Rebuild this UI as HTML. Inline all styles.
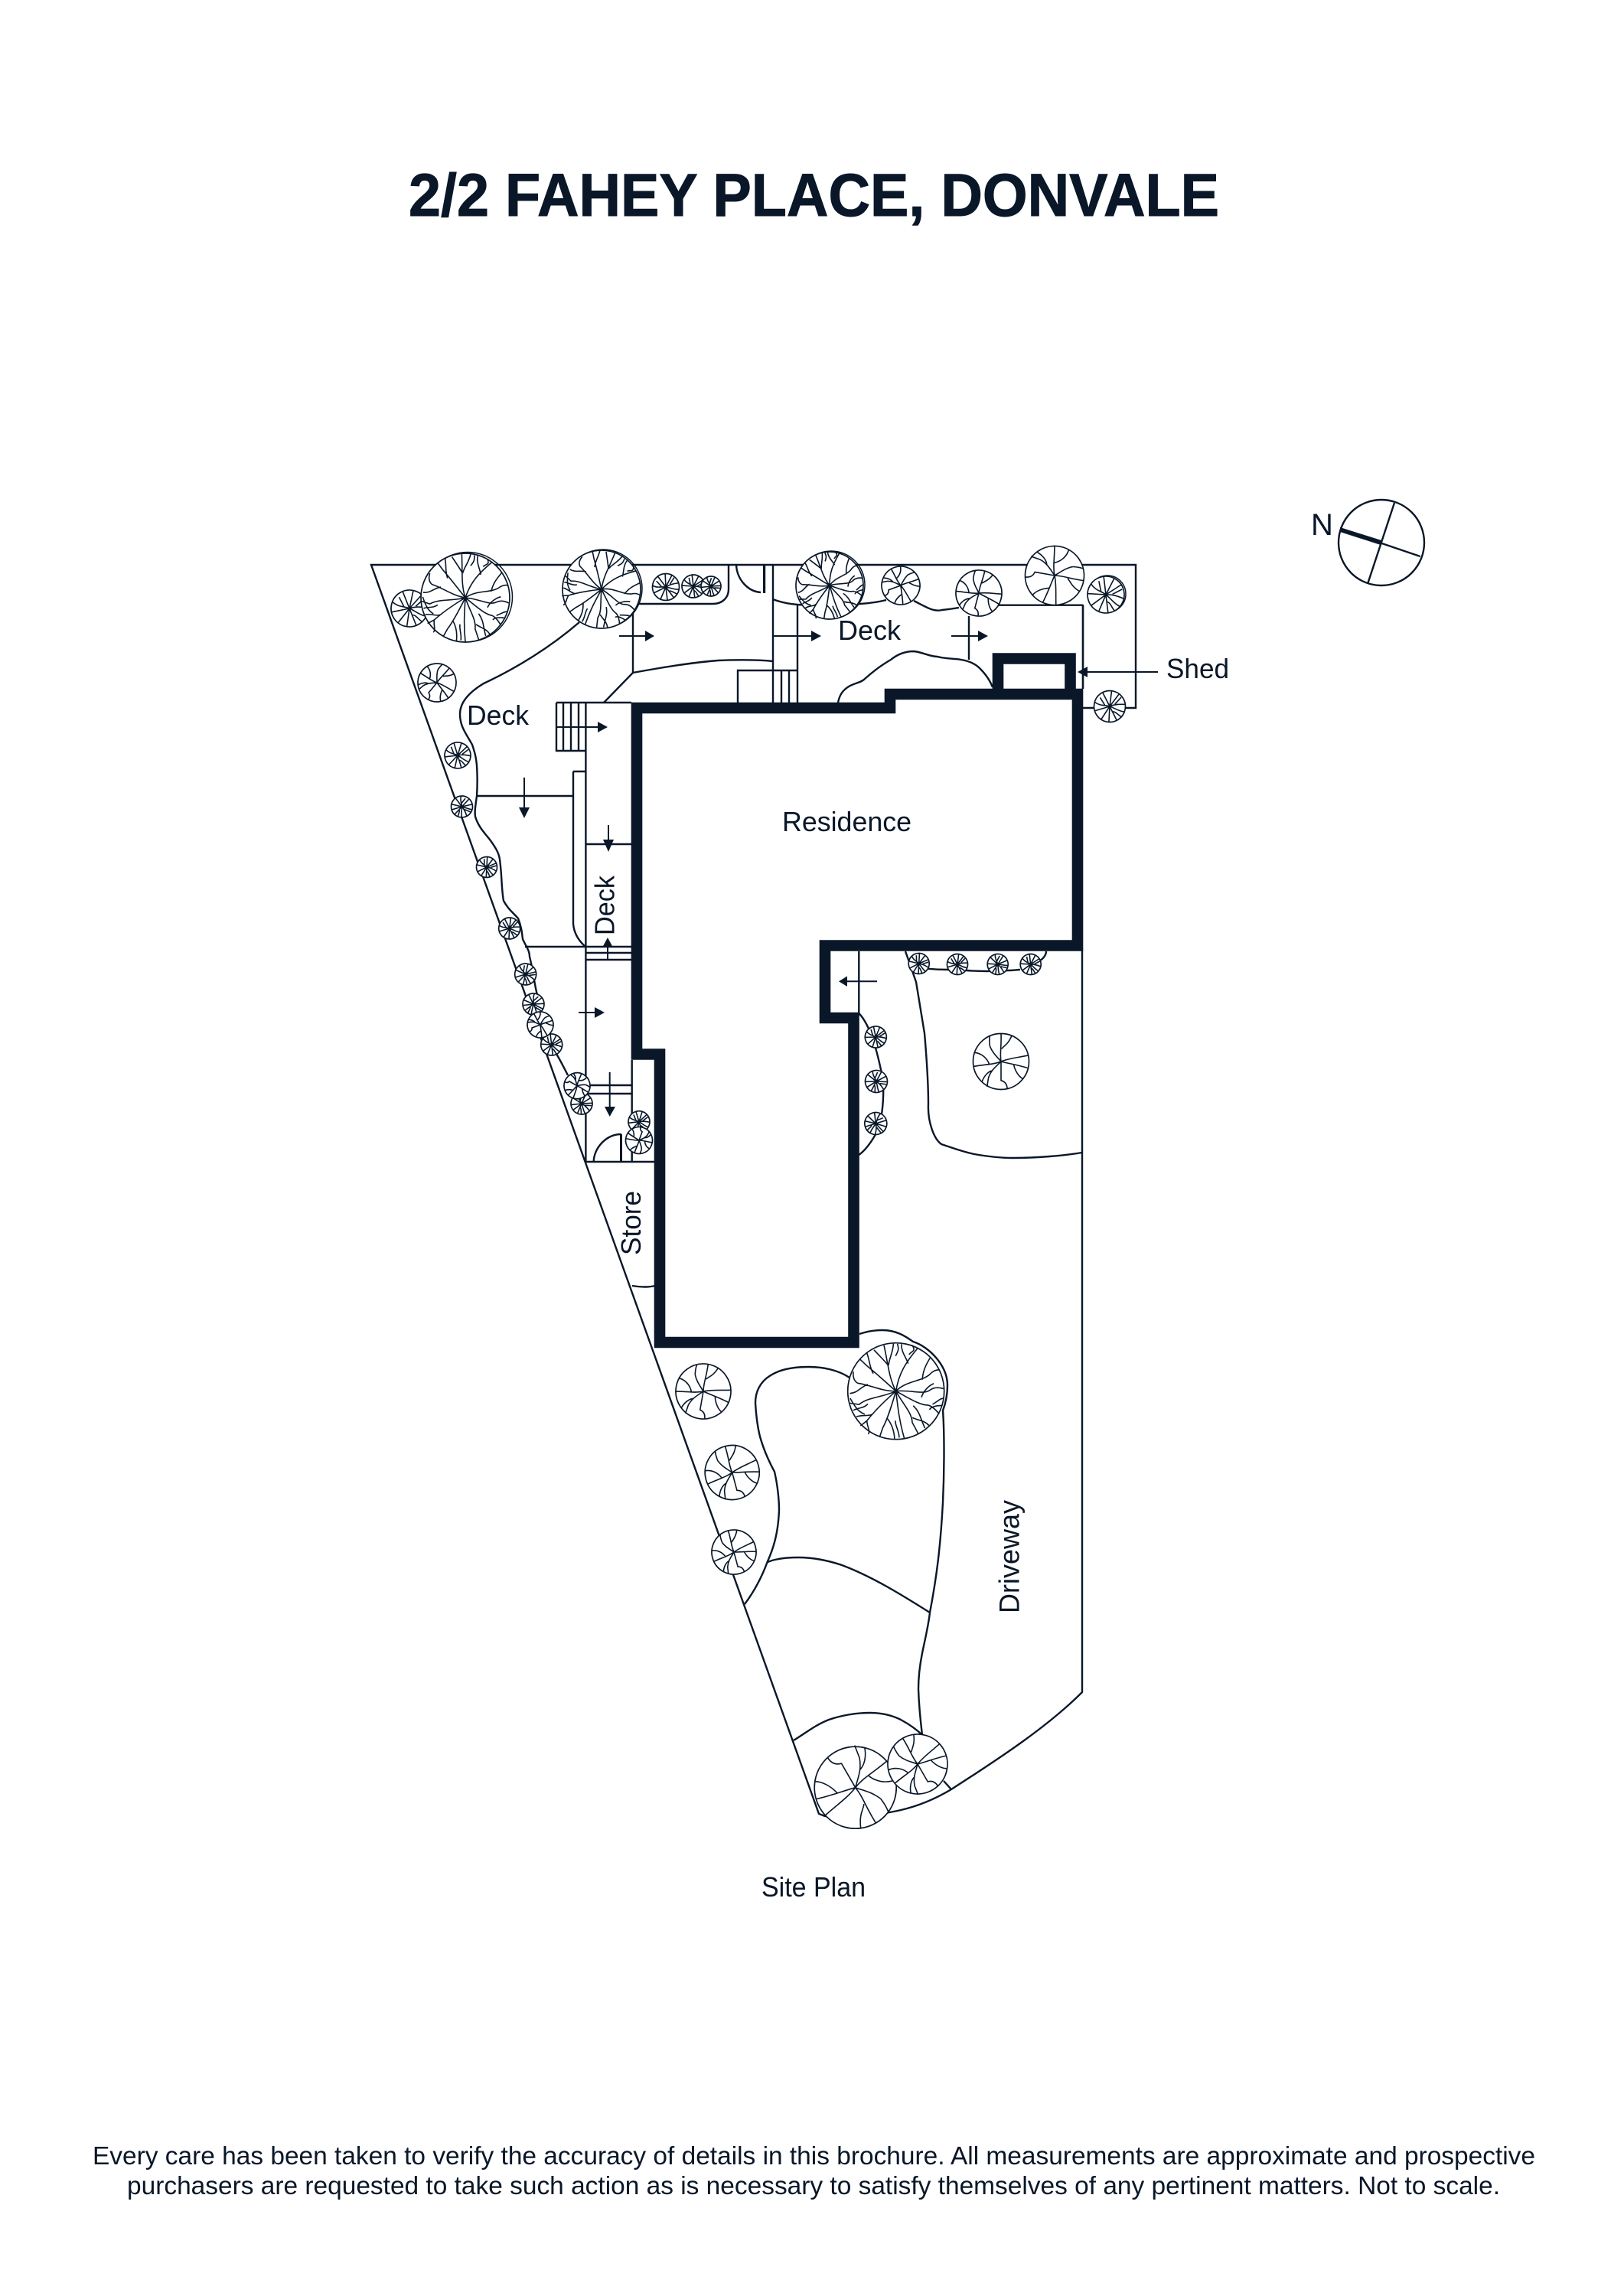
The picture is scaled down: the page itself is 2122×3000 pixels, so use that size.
<!DOCTYPE html>
<html><head><meta charset="utf-8"><title>2/2 Fahey Place, Donvale</title>
<style>
html,body{margin:0;padding:0;background:#fff}
svg{display:block}
text{font-family:"Liberation Sans",Arial,sans-serif;fill:#091728}
.l{fill:none;stroke:#091728;stroke-width:2.4;stroke-linejoin:miter}
.t circle{fill:#fff;stroke:#091728;stroke-width:1.7;vector-effect:non-scaling-stroke}
.t path{fill:none;stroke:#091728;stroke-width:1.6;vector-effect:non-scaling-stroke}
.h{fill:#091728;stroke:none}
</style></head><body>
<svg xmlns="http://www.w3.org/2000/svg" width="2122" height="3000" viewBox="0 0 2122 3000">
<defs>
<g id="a" class="t"><circle r="100"/><path d="M0 0C-10-30-6-60-8-98M0 0C12-35 30-55 60-80M0 0C25-18 55-10 75-22Q85-30 96-28M0 0C30 2 55 18 70 10Q82 4 98 12M0 0C25 20 45 38 60 40Q70 44 80 62M0 0C10 30 25 50 22 70L30 94M0 0C-2 35-4 60 0 99M0 0C-15 30-28 55-40 70L-50 88M0 0C-25 15-50 32-70 50L-85 58M0 0C-30 8-60 2-80 14L-98 8M0 0C-30-5-50-22-75-30Q-85-38-80-55M0 0C-20-25-35-45-50-62L-62-78M-6-55C-15-70-22-80-30-92M-6-55C-2-70 8-80 12-98M35-52C32-68 25-78 28-94M58-14C62-30 68-40 82-56M50 22C55 10 70 0 80-2M24 60C35 68 48 70 55 82M-28 52C-20 66-18 80-20 97M-52 35C-60 45-75 35-90 38M-55-24C-70-22-78-10-95-12M40-70C48-78 55-72 50-88M70 40C82 36 88 30 96 32M-70 50C-72 62-66 72-72 78M12-72C18-80 22-84 20-96M-40-44C-46-60-42-72-46-90M30 36C42 52 40 66 46 86M-12 60C-14 72-8 80-10 96M-62 16C-72 24-86 20-94 24M62 50C66 44 78 44 90 46M-72 36C-82 30-88 22-96-2"/></g>
<g id="b" class="t"><circle r="100"/><path d="M0 0C-5-30 2-50 0-100M2-45C8-55 25-60 38-92M0 0C30-12 60-14 98-22M0 0C30 8 60 12 98 24M45 10C50 35 65 55 78 62M0 0L0 68C15 72 22 82 22 98M0 0C-20 20-35 30-45 58L-50 90M-30 32C-45 35-60 50-68 72M0 0C-30 12-60 10-100 18M-42 10C-50-12-70-30-95-32M-40-55C-42-70-42-80-40-92M0 0C-15-18-30-30-40-55"/></g>
<g id="c" class="t"><circle r="100"/><path d="M0 0L-5-100M0 0L45-88M0 0C30-20 60-25 95-30M0 0C35 5 60 20 98 18M0 0L60 80M0 0L12 99M0 0L-40 92M0 0C-30 15-60 30-90 45M0 0C-30-5-60 10-98-10M0 0L-60-80M30-20L62-70M-30 0L-70-45M25 30C45 25 60 45 85 52"/></g>
</defs>

<text x="534" y="282" font-size="79" font-weight="700" stroke="#091728" stroke-width="1" textLength="1059" lengthAdjust="spacingAndGlyphs">2/2 FAHEY PLACE, DONVALE</text>

<!-- site lines -->
<g class="l">
<path d="M1414 1240V2211C1370 2255 1310 2295 1243 2338C1203 2362 1160 2375 1078 2373L1070 2370L485 738H1484V925H1415"/>
<path d="M1415 790.7H1301.5M1415 790.7V900M1266 805V862"/>
<path d="M833 789H931C945 789 952 780 952 770V738"/>
<path d="M962 738C963 758 978 773 994 774"/>
<path d="M1010 738V918M1042 790V918M964 918V876H1042M1021 876V918M1031 876V918"/>
<path d="M1010 783C1020 787 1030 789 1042 790C1075 792 1105 792 1124 789C1140 788 1150 786 1158 784M1194 785C1210 793 1220 800 1231 797C1240 796 1247 795 1253 794"/>
<path d="M1095 918C1097 908 1101 902 1109 897C1118 892 1125 892 1130 887C1140 878 1150 870 1164 862C1175 853 1185 851 1194 851C1205 852 1215 858 1225 858C1235 861 1245 860 1256 862C1268 864 1275 868 1280 873C1289 882 1294 890 1297 898"/>
<path d="M827 800V879L789 918M827 879C860 873 900 866 938 863C965 862 990 862 1010 864"/>
<path d="M757 813C720 845 675 873 632 893C612 905 601 918 601 933C601 950 610 960 617 973C621 985 622 990 623 1000C624 1015 624 1025 623 1040C621 1055 620 1060 621 1067C625 1080 632 1087 640 1097C648 1108 652 1115 653 1123C656 1145 655 1160 658 1177C664 1188 670 1192 677 1200C681 1210 682 1218 683 1227C688 1238 692 1242 692 1250C697 1270 698 1285 702 1300M727 1377C733 1387 737 1395 742 1405"/>
<path d="M727 918H825M765.4 918V1518M727 918V981H765M736 918V981M746 918V981M756 918V981M749 1008H765M749 1008V1207C750 1220 757 1230 765 1237"/>
<path d="M623 1040H749M765 1103H825M686 1237H825M765 1245H825M765 1254H825M771 1418H825M767 1429H825M765 1518H855M825.7 1385V1518"/>
<path d="M775.7 1518C776 1500 792 1482 811.7 1482"/>
<path d="M826 1680C838 1682 848 1682 856 1680"/>
<path d="M1122.3 1243V1324C1138 1340 1148 1380 1154 1413C1155 1440 1152 1462 1147 1477C1140 1490 1132 1502 1122.3 1509"/>
<path d="M1183 1243C1190 1262 1193 1272 1197 1283C1203 1320 1207 1345 1208 1350C1211 1385 1213 1415 1213 1443C1212 1465 1220 1488 1230 1495C1245 1500 1258 1505 1273 1508C1290 1511 1310 1513 1323 1513C1355 1513 1390 1510 1414 1506"/>
<path d="M1211 1265.7C1225 1267 1235 1267 1240 1267C1250 1268 1255 1268 1263 1268C1275 1269 1282 1269 1290 1269C1300 1269 1310 1268 1317 1268C1325 1268 1328 1267 1333 1267M1359 1255C1364 1252 1367 1247 1367 1243"/>
<path d="M1123 1743C1135 1739 1145 1738 1153 1738C1170 1738 1182 1745 1193 1753C1215 1760 1238 1785 1238 1810C1238 1825 1235 1835 1232 1843C1234 1870 1234 1920 1232 1963C1229 2020 1224 2060 1215 2107C1213 2125 1208 2145 1205 2160C1201 2180 1200 2195 1200 2207C1201 2235 1203 2250 1205 2267"/>
<path d="M1110 1800C1095 1790 1075 1786 1057 1786C1035 1786 1018 1790 1007 1797C992 1806 987 1820 987 1833C988 1850 990 1865 993 1877C998 1895 1005 1910 1012 1923C1016 1940 1018 1960 1018 1973C1017 2000 1012 2020 1003 2040C995 2062 985 2080 973 2096"/>
<path d="M1003 2041C1015 2036 1030 2035 1043 2035C1065 2035 1085 2040 1100 2045C1140 2060 1180 2085 1215 2107"/>
<path d="M1037 2274C1052 2265 1065 2254 1083 2247C1100 2241 1120 2238 1137 2238C1152 2238 1165 2241 1177 2247C1188 2253 1198 2260 1205 2267M1233 2327L1243 2338"/>
<path d="M1415 790V900" />
</g>

<!-- compass -->
<circle cx="1805" cy="709" r="56" class="l"/>
<path class="l" d="M1822 657L1787 763M1751.6 691.7L1855.7 727"/>
<polygon class="h" points="1751,689 1805,706 1804,712 1751,695"/>
<text x="1713" y="699" font-size="40">N</text>

<!-- trees -->
<circle cx="611" cy="780" r="58.5" fill="none" stroke="#091728" stroke-width="1.5"/>
<circle cx="788" cy="769" r="51" fill="none" stroke="#091728" stroke-width="1.5"/>
<circle cx="1086" cy="764" r="44" fill="none" stroke="#091728" stroke-width="1.5"/>
<circle cx="1447" cy="776" r="24" fill="none" stroke="#091728" stroke-width="1.5"/>
<use href="#c" transform="translate(535,795) scale(.24) rotate(15)"/>
<use href="#a" transform="translate(608,781) scale(.58)"/>
<use href="#a" transform="translate(786,770) scale(.51) rotate(25)"/>
<use href="#c" transform="translate(870,767) scale(.175)"/>
<use href="#c" transform="translate(906,766) scale(.15) rotate(30)"/>
<use href="#c" transform="translate(929,766) scale(.13) rotate(60)"/>
<use href="#b" transform="translate(571,892) scale(.25) rotate(40)"/>
<use href="#c" transform="translate(598,987) scale(.17) rotate(20)"/>
<use href="#c" transform="translate(603.5,1054) scale(.14) rotate(80)"/>
<use href="#c" transform="translate(636,1133) scale(.135) rotate(40)"/>
<use href="#c" transform="translate(665.7,1213) scale(.14) rotate(10)"/>
<use href="#c" transform="translate(686.7,1273) scale(.14) rotate(50)"/>
<use href="#c" transform="translate(697,1312) scale(.14) rotate(90)"/>
<use href="#c" transform="translate(720.7,1365) scale(.14) rotate(30)"/>
<use href="#b" transform="translate(706,1339) scale(.17) rotate(70)"/>
<use href="#c" transform="translate(760,1442) scale(.14) rotate(60)"/>
<use href="#b" transform="translate(754,1418.7) scale(.17) rotate(120)"/>
<use href="#c" transform="translate(835,1465.7) scale(.14) rotate(20)"/>
<use href="#b" transform="translate(835,1490) scale(.175) rotate(200)"/>
<use href="#a" transform="translate(1084,765) scale(.44) rotate(-20)"/>
<use href="#b" transform="translate(1177,765) scale(.25) rotate(70)"/>
<use href="#b" transform="translate(1279,775) scale(.3) rotate(15)"/>
<use href="#b" transform="translate(1378,752) scale(.385) rotate(100)"/>
<use href="#c" transform="translate(1445,777) scale(.24) rotate(30)"/>
<use href="#c" transform="translate(1450,923) scale(.205) rotate(10)"/>
<use href="#c" transform="translate(1200.7,1259) scale(.135) rotate(40)"/>
<use href="#c" transform="translate(1251,1260) scale(.135) rotate(10)"/>
<use href="#c" transform="translate(1303.7,1260) scale(.135) rotate(70)"/>
<use href="#c" transform="translate(1346.7,1260) scale(.135) rotate(30)"/>
<use href="#b" transform="translate(1308,1387) scale(.365)"/>
<use href="#c" transform="translate(1144.3,1355) scale(.14) rotate(25)"/>
<use href="#c" transform="translate(1145,1413) scale(.145) rotate(65)"/>
<use href="#c" transform="translate(1144.3,1468) scale(.145) rotate(110)"/>
<use href="#b" transform="translate(919,1818) scale(.36) rotate(10)"/>
<use href="#b" transform="translate(956.7,1924) scale(.355) rotate(-15)"/>
<use href="#b" transform="translate(959,2028) scale(.29) rotate(-15)"/>
<use href="#a" transform="translate(1170.7,1817.7) scale(.63) rotate(-10)"/>
<use href="#b" transform="translate(1117.7,2335.7) scale(.535) rotate(150)"/>
<use href="#b" transform="translate(1199,2305) scale(.39) rotate(-30)"/>

<!-- walls -->
<path fill="none" stroke="#091728" stroke-width="14.6" stroke-linejoin="miter" d="M832 925V1377.5H862V1754H1115.5V1330H1078V1235.5H1408V907H1163V925ZM1304 907V860.5H1398.5V907"/>

<!-- arrows -->
<g class="l" style="stroke-width:2">
<path d="M809 831H845M1010.6 831H1062M1243 831H1280M1513 878H1418M727 950H783M685 1016V1057M795 1078V1099M794 1254V1236M756 1323H779M1146 1282.3H1105M796.7 1401V1448"/>
</g>
<g class="h">
<polygon points="843,824 855,831 843,838"/>
<polygon points="1060,824 1073,831 1060,838"/>
<polygon points="1278,824 1291,831 1278,838"/>
<polygon points="1421,871 1408,878 1421,885"/>
<polygon points="781,943 794,950 781,957"/>
<polygon points="678,1055 692,1055 685,1069"/>
<polygon points="788,1097 802,1097 795,1113"/>
<polygon points="787,1238 801,1238 794,1225"/>
<polygon points="777,1316 777,1330 790,1323"/>
<polygon points="1107,1275.5 1107,1289 1096,1282.3"/>
<polygon points="790,1446 804,1446 796.7,1459"/>
<rect x="810" y="1482" width="3" height="36"/>
<rect x="997" y="738" width="3.2" height="37"/>
</g>

<!-- labels -->
<text x="610" y="947" font-size="36" textLength="81" lengthAdjust="spacingAndGlyphs">Deck</text>
<text x="1095" y="836" font-size="36" textLength="82" lengthAdjust="spacingAndGlyphs">Deck</text>
<text x="1524" y="886" font-size="36" textLength="82" lengthAdjust="spacingAndGlyphs">Shed</text>
<text x="1022" y="1086" font-size="36" textLength="169" lengthAdjust="spacingAndGlyphs">Residence</text>
<text transform="translate(802.3,1222) rotate(-90)" font-size="36" textLength="78" lengthAdjust="spacingAndGlyphs">Deck</text>
<text transform="translate(837,1640) rotate(-90)" font-size="36" textLength="84" lengthAdjust="spacingAndGlyphs">Store</text>
<text transform="translate(1331.7,2108) rotate(-90)" font-size="37" textLength="148" lengthAdjust="spacingAndGlyphs">Driveway</text>
<text x="995" y="2478" font-size="36" textLength="136" lengthAdjust="spacingAndGlyphs">Site Plan</text>
<text x="121" y="2828" font-size="33" textLength="1885" lengthAdjust="spacingAndGlyphs">Every care has been taken to verify the accuracy of details in this brochure. All measurements are approximate and prospective</text>
<text x="166" y="2867" font-size="33" textLength="1794" lengthAdjust="spacingAndGlyphs">purchasers are requested to take such action as is necessary to satisfy themselves of any pertinent matters. Not to scale.</text>
</svg>
</body></html>
